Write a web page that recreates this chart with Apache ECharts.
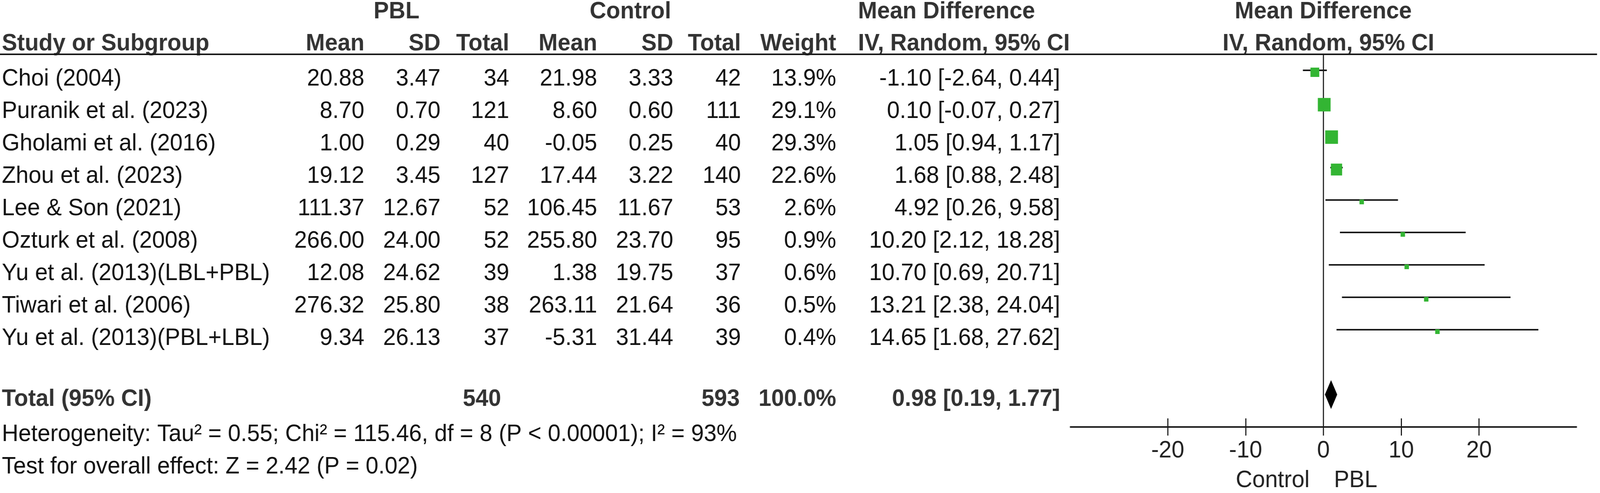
<!DOCTYPE html>
<html>
<head>
<meta charset="utf-8">
<script src="https://cdn.jsdelivr.net/npm/echarts@6/dist/echarts.min.js"></script>
<style>html,body{margin:0;padding:0;background:#fff;overflow:hidden}#c{width:4330px;height:1262px;transform-origin:0 0}</style>
</head>
<body>
<div id="c"></div>
<script>
// ---- data ----
const studies = ['Choi (2004)', 'Puranik et al. (2023)', 'Gholami et al. (2016)', 'Zhou et al. (2023)', 'Lee & Son (2021)', 'Ozturk et al. (2008)', 'Yu et al. (2013)(LBL+PBL)', 'Tiwari et al. (2006)', 'Yu et al. (2013)(PBL+LBL)'];
const pblMean = ['20.88', '8.70', '1.00', '19.12', '111.37', '266.00', '12.08', '276.32', '9.34'];
const pblSD = ['3.47', '0.70', '0.29', '3.45', '12.67', '24.00', '24.62', '25.80', '26.13'];
const pblN = [34, 121, 40, 127, 52, 52, 39, 38, 37];
const ctrlMean = ['21.98', '8.60', '-0.05', '17.44', '106.45', '255.80', '1.38', '263.11', '-5.31'];
const ctrlSD = ['3.33', '0.60', '0.25', '3.22', '11.67', '23.70', '19.75', '21.64', '31.44'];
const ctrlN = [42, 111, 40, 140, 53, 95, 37, 36, 39];
const weights = [13.9, 29.1, 29.3, 22.6, 2.6, 0.9, 0.6, 0.5, 0.4];
const md = [-1.10, 0.10, 1.05, 1.68, 4.92, 10.20, 10.70, 13.21, 14.65];
const ciLow = [-2.64, -0.07, 0.94, 0.88, 0.26, 2.12, 0.69, 2.38, 1.68];
const ciHigh = [0.44, 0.27, 1.17, 2.48, 9.58, 18.28, 20.71, 24.04, 27.62];
const total = { pblN: 540, ctrlN: 593, weight: '100.0%', md: 0.98, lo: 0.19, hi: 1.77 };
const heterogeneity = 'Heterogeneity: Tau\u00b2 = 0.55; Chi\u00b2 = 115.46, df = 8 (P < 0.00001); I\u00b2 = 93%';
const overallTest = 'Test for overall effect: Z = 2.42 (P = 0.02)';
const xTicks = [-20, -10, 0, 10, 20];
const favourLeft = 'Control';
const favourRight = 'PBL';

// ---- fit the 4330x1262 design into the actual window ----
(function () {
  const el = document.getElementById('c');
  const sx = (window.innerWidth || 4330) / 4330;
  const sy = (window.innerHeight || 1262) / 1262;
  el.style.transform = 'scale(' + sx + ',' + sy + ')';
})();

// ---- layout / style ----
const FONT = '"Liberation Sans", Arial, Helvetica, sans-serif';
const FS = 62;
const HEAD_C = '#333333';
const TEXT_C = '#111111';
const LINE_C = '#1a1a1a';
const GREEN = '#33b533';
const ROW0 = 202, ROW_H = 83;

function txt(str, x, y, align, bold, color, size) {
  return {
    type: 'text', silent: true,
    style: {
      text: str, x: x, y: y,
      font: (bold ? 'bold ' : '') + (size || FS) + 'px ' + FONT,
      fill: color,
      textAlign: align, textVerticalAlign: 'middle',
      align: align, verticalAlign: 'middle'
    }
  };
}

const cols = { name: 5, pm: 986, ps: 1192, pn: 1378, cm: 1616, cs: 1822, cn: 2005, w: 2263, ci: 2869 };
const g = [];
g.push(txt('PBL', 1073, 30, 'center', true, HEAD_C));
g.push(txt('Control', 1706, 30, 'center', true, HEAD_C));
g.push(txt('Mean Difference', 2322, 30, 'left', true, HEAD_C));
g.push(txt('Mean Difference', 3581, 30, 'center', true, HEAD_C));
g.push(txt('Study or Subgroup', cols.name, 112, 'left', true, HEAD_C));
g.push(txt('Mean', cols.pm, 112, 'right', true, HEAD_C));
g.push(txt('SD', cols.ps, 112, 'right', true, HEAD_C));
g.push(txt('Total', cols.pn, 112, 'right', true, HEAD_C));
g.push(txt('Mean', cols.cm, 112, 'right', true, HEAD_C));
g.push(txt('SD', cols.cs, 112, 'right', true, HEAD_C));
g.push(txt('Total', cols.cn, 112, 'right', true, HEAD_C));
g.push(txt('Weight', cols.w, 112, 'right', true, HEAD_C));
g.push(txt('IV, Random, 95% CI', 2322, 112, 'left', true, HEAD_C));
g.push(txt('IV, Random, 95% CI', 3595, 112, 'center', true, HEAD_C));
g.push({ type: 'line', silent: true, shape: { x1: 0, y1: 139, x2: 4322, y2: 139 }, style: { stroke: LINE_C, lineWidth: 4 } });

studies.forEach(function (s, i) {
  const y = ROW0 + ROW_H * i;
  g.push(txt(s, cols.name, y, 'left', false, TEXT_C));
  g.push(txt(pblMean[i], cols.pm, y, 'right', false, TEXT_C));
  g.push(txt(pblSD[i], cols.ps, y, 'right', false, TEXT_C));
  g.push(txt(String(pblN[i]), cols.pn, y, 'right', false, TEXT_C));
  g.push(txt(ctrlMean[i], cols.cm, y, 'right', false, TEXT_C));
  g.push(txt(ctrlSD[i], cols.cs, y, 'right', false, TEXT_C));
  g.push(txt(String(ctrlN[i]), cols.cn, y, 'right', false, TEXT_C));
  g.push(txt(weights[i].toFixed(1) + '%', cols.w, y, 'right', false, TEXT_C));
  g.push(txt(md[i].toFixed(2) + ' [' + ciLow[i].toFixed(2) + ', ' + ciHigh[i].toFixed(2) + ']', cols.ci, y, 'right', false, TEXT_C));
});

g.push(txt('Total (95% CI)', cols.name, 1022, 'left', true, HEAD_C));
g.push(txt(String(total.pblN), 1356, 1022, 'right', true, HEAD_C));
g.push(txt(String(total.ctrlN), 2002, 1022, 'right', true, HEAD_C));
g.push(txt(total.weight, cols.w, 1022, 'right', true, HEAD_C));
g.push(txt(total.md.toFixed(2) + ' [' + total.lo.toFixed(2) + ', ' + total.hi.toFixed(2) + ']', cols.ci, 1022, 'right', true, HEAD_C));
g.push(txt(heterogeneity, cols.name, 1112, 'left', false, TEXT_C));
g.push(txt(overallTest, cols.name, 1195, 'left', false, TEXT_C));
g.push(txt(favourLeft, 3544, 1230, 'right', false, '#222'));
g.push(txt(favourRight, 3610, 1230, 'left', false, '#222'));

const studyData = studies.map(function (s, i) { return [md[i], ciLow[i], ciHigh[i], i, weights[i]]; });
const totalData = [[total.md, total.lo, total.hi, studies.length + 1]];

const chart = echarts.init(document.getElementById('c'), null, { renderer: 'canvas', width: 4330, height: 1262 });
chart.setOption({
  animation: false,
  backgroundColor: '#fff',
  grid: { left: 2897, right: 64, top: 138.5, bottom: 169, containLabel: false },
  xAxis: [{
    type: 'value', min: -32.5, max: 32.5,
    axisLine: { show: true, onZero: false, lineStyle: { color: LINE_C, width: 4 } },
    axisTick: { show: true, inside: false, length: 22, customValues: xTicks, lineStyle: { color: LINE_C, width: 3 } },
    axisLabel: { show: true, customValues: xTicks, margin: 30, fontSize: FS, fontFamily: FONT, color: '#222' },
    splitLine: { show: false }
  }, {
    type: 'value', min: -32.5, max: 32.5, position: 'bottom',
    axisLine: { show: false, onZero: false },
    axisTick: { show: true, inside: true, length: 22, customValues: xTicks, lineStyle: { color: LINE_C, width: 3 } },
    axisLabel: { show: false },
    splitLine: { show: false }
  }],
  yAxis: {
    type: 'value', inverse: true, min: -0.5, max: 11,
    axisLine: { show: true, onZero: true, lineStyle: { color: LINE_C, width: 3 } },
    axisTick: { show: false }, axisLabel: { show: false }, splitLine: { show: false }
  },
  series: [{
    type: 'custom', name: 'studies', xAxisIndex: 0, yAxisIndex: 0,
    data: studyData,
    encode: { x: [0, 1, 2], y: 3 },
    renderItem: function (params, api) {
      const r = api.value(3), w = api.value(4);
      const pc = api.coord([api.value(0), r]);
      const pl = api.coord([api.value(1), r]);
      const ph = api.coord([api.value(2), r]);
      const s = Math.max(12, 6.4 * Math.sqrt(w));
      return {
        type: 'group', children: [
          { type: 'line', shape: { x1: pl[0], y1: pc[1], x2: ph[0], y2: pc[1] }, style: { stroke: LINE_C, lineWidth: 4 } },
          { type: 'rect', shape: { x: pc[0] - s / 2, y: pc[1] + 5 - s / 2, width: s, height: s }, style: { fill: GREEN } }
        ]
      };
    }
  }, {
    type: 'custom', name: 'total', xAxisIndex: 0, yAxisIndex: 0,
    data: totalData,
    encode: { x: [0, 1, 2], y: 3 },
    renderItem: function (params, api) {
      const r = api.value(3);
      const pc = api.coord([api.value(0), r]);
      const pl = api.coord([api.value(1), r]);
      const ph = api.coord([api.value(2), r]);
      const hh = 37;
      return {
        type: 'polygon',
        shape: { points: [[pl[0], pc[1]], [pc[0], pc[1] - hh], [ph[0], pc[1]], [pc[0], pc[1] + hh]] },
        style: { fill: '#000' }
      };
    }
  }],
  graphic: { elements: g }
});
</script>
</body>
</html>
